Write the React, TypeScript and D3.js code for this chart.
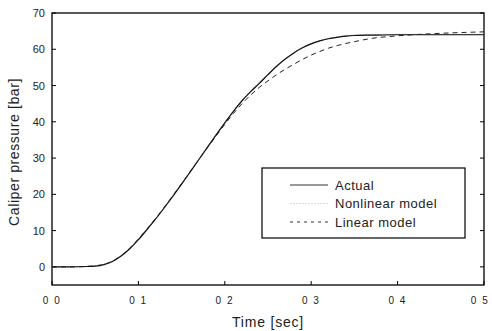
import { useEffect, useRef } from "react";
import * as d3 from "d3";

// time in seconds
const timeSec = [0, 0.02, 0.04, 0.05, 0.06, 0.07, 0.08, 0.09, 0.1, 0.11, 0.12, 0.13, 0.14, 0.15, 0.16, 0.17, 0.18, 0.19, 0.2, 0.21, 0.22, 0.23, 0.24, 0.25, 0.26, 0.27, 0.28, 0.29, 0.3, 0.31, 0.32, 0.33, 0.34, 0.35, 0.37, 0.4, 0.45, 0.5];
const actual = [0, 0, 0.1, 0.2, 0.6, 1.5, 3, 5, 7.5, 10.3, 13.2, 16.3, 19.5, 22.8, 26.2, 29.6, 33, 36.4, 39.7, 42.9, 45.8, 48.3, 50.6, 53, 55.3, 57.3, 59, 60.4, 61.5, 62.3, 62.9, 63.3, 63.6, 63.8, 63.9, 64, 64, 64];
const nonlinear = [0, 0, 0.1, 0.3, 0.7, 1.6, 3.1, 5.1, 7.6, 10.4, 13.3, 16.4, 19.6, 22.9, 26.3, 29.7, 33.1, 36.5, 39.8, 43, 45.9, 48.5, 50.9, 53.2, 55.4, 57.4, 59.1, 60.5, 61.6, 62.4, 63, 63.4, 63.7, 63.9, 64, 64.1, 64.1, 64.1];
const linear = [0, 0, 0.1, 0.3, 0.7, 1.6, 3.1, 5.2, 7.7, 10.5, 13.4, 16.5, 19.7, 23, 26.3, 29.6, 32.9, 36.1, 39.3, 42.3, 45, 47.4, 49.5, 51.3, 53, 54.5, 55.9, 57.2, 58.4, 59.4, 60.3, 61, 61.6, 62.1, 63, 63.7, 64.4, 64.8];

const xTicks = [0, 0.1, 0.2, 0.3, 0.4, 0.5];
const xTickLabels = ["0 0", "0 1", "0 2", "0 3", "0 4", "0 5"];
const yTicks = [0, 10, 20, 30, 40, 50, 60, 70];

const legendLabels = ["Actual", "Nonlinear model", "Linear model"];

const W = 492;
const H = 331;

export default function App() {
  const svgRef = useRef<SVGSVGElement>(null);

  useEffect(() => {
    const svg = d3.select(svgRef.current);
    svg.selectAll("*").remove();

    const left = 52, right = 484, top = 13, bottom = 285;
    const x = d3.scaleLinear().domain([0, 0.5]).range([left, right]);
    const y = d3.scaleLinear().domain([-5, 70]).range([bottom, top]);
    const font = "Liberation Sans, Arial, sans-serif";

    svg.append("rect").attr("width", W).attr("height", H).attr("fill", "#fff");

    // frame
    svg
      .append("rect")
      .attr("x", left)
      .attr("y", top)
      .attr("width", right - left)
      .attr("height", bottom - top)
      .attr("fill", "none")
      .attr("stroke", "#000")
      .attr("stroke-width", 1.3);

    // x ticks + labels
    const gx = svg.append("g");
    xTicks.forEach((t, i) => {
      gx.append("line")
        .attr("x1", x(t)).attr("x2", x(t))
        .attr("y1", bottom).attr("y2", bottom - 4)
        .attr("stroke", "#000");
      gx.append("text")
        .attr("x", x(t) + (i === 0 ? 0 : i === xTicks.length - 1 ? -4 : 0))
        .attr("y", 304)
        .attr("text-anchor", "middle")
        .attr("font-family", font)
        .attr("font-size", 10)
        .attr("letter-spacing", 1.5)
        .attr("fill", "#222")
        .text(xTickLabels[i]);
    });

    // y ticks + labels
    const gy = svg.append("g");
    yTicks.forEach((v) => {
      gy.append("line")
        .attr("x1", left).attr("x2", left + 4)
        .attr("y1", y(v)).attr("y2", y(v))
        .attr("stroke", "#000");
      gy.append("line")
        .attr("x1", right).attr("x2", right - 4)
        .attr("y1", y(v)).attr("y2", y(v))
        .attr("stroke", "#000");
      gy.append("text")
        .attr("x", 45)
        .attr("y", y(v) + 4)
        .attr("text-anchor", "end")
        .attr("font-family", font)
        .attr("font-size", 11)
        .attr("fill", "#222")
        .text(v);
    });

    // axis titles
    svg.append("text")
      .attr("x", 268)
      .attr("y", 327)
      .attr("text-anchor", "middle")
      .attr("font-family", font)
      .attr("font-size", 14)
      .attr("letter-spacing", 0.8)
      .attr("fill", "#222")
      .text("Time [sec]");

    svg.append("text")
      .attr("transform", `translate(19,152) rotate(-90)`)
      .attr("text-anchor", "middle")
      .attr("font-family", font)
      .attr("font-size", 14)
      .attr("letter-spacing", 0.6)
      .attr("fill", "#222")
      .text("Caliper pressure [bar]");

    const line = (vals: number[]) =>
      d3.line<number>()
        .x((_, i) => x(timeSec[i]))
        .y((d) => y(d))
        .curve(d3.curveMonotoneX)(vals);

    svg.append("path").attr("d", line(linear)).attr("fill", "none")
      .attr("stroke", "#222").attr("stroke-width", 1).attr("stroke-dasharray", "5,4");
    svg.append("path").attr("d", line(nonlinear)).attr("fill", "none")
      .attr("stroke", "#999").attr("stroke-width", 1).attr("stroke-dasharray", "2,1");
    svg.append("path").attr("d", line(actual)).attr("fill", "none")
      .attr("stroke", "#111").attr("stroke-width", 1.2);

    // legend
    const lg = svg.append("g");
    lg.append("rect")
      .attr("x", 262).attr("y", 168)
      .attr("width", 203).attr("height", 70)
      .attr("fill", "#fff").attr("stroke", "#000").attr("stroke-width", 1.2);
    const styles = [
      { stroke: "#333", dash: null },
      { stroke: "#ddd", dash: "2,1" },
      { stroke: "#333", dash: "3,4" },
    ];
    legendLabels.forEach((lab, i) => {
      const ly = 185 + i * 18.5;
      const l = lg.append("line")
        .attr("x1", 290).attr("x2", 328)
        .attr("y1", ly).attr("y2", ly)
        .attr("stroke", styles[i].stroke).attr("stroke-width", 1);
      if (styles[i].dash) l.attr("stroke-dasharray", styles[i].dash);
      lg.append("text")
        .attr("x", 335).attr("y", ly + 4.5)
        .attr("font-family", font)
        .attr("font-size", 13)
        .attr("letter-spacing", 0.5)
        .attr("fill", "#222")
        .text(lab);
    });
  }, []);

  return (
    <svg
      ref={svgRef}
      width={W}
      height={H}
      style={{ position: "absolute", left: 0, top: 0 }}
    />
  );
}
